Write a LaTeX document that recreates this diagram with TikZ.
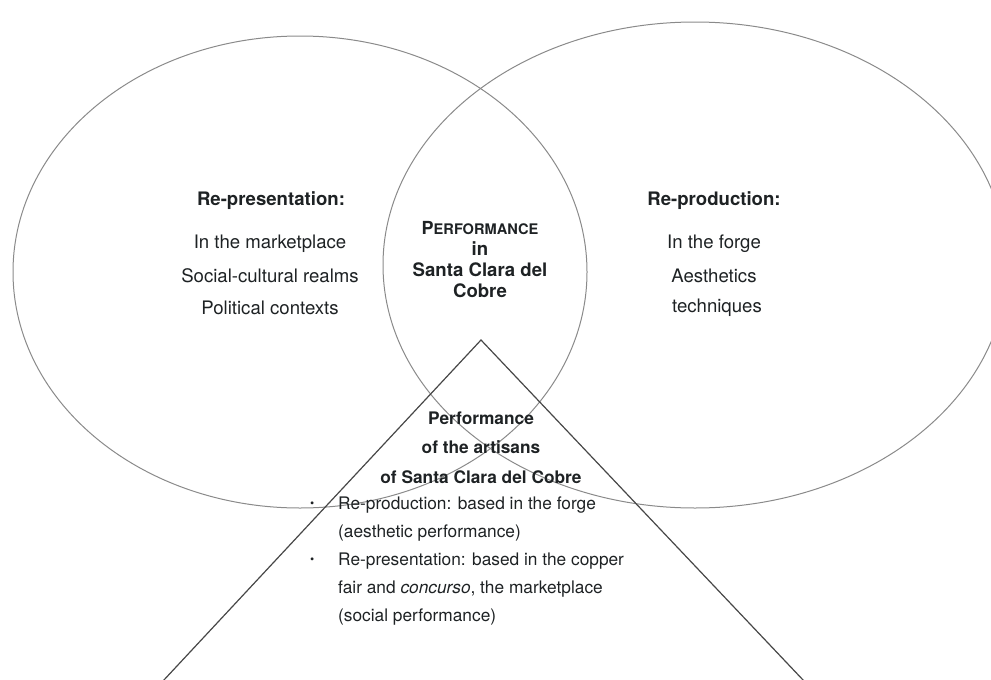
\documentclass[tikz,border=0pt]{standalone}
\usepackage{fontspec}
\setmainfont{TeX Gyre Heros}
\usetikzlibrary{positioning}

\definecolor{ringgray}{HTML}{8A8A8A}
\definecolor{inkdark}{HTML}{1E2224}

\begin{document}
\begin{tikzpicture}[x=1pt,y=-1pt,
	ring/.style={draw=ringgray,line width=1pt},
	wedge/.style={draw=black!72,line width=1.2pt},
	head/.style={font=\fontsize{18.6}{22}\selectfont\bfseries,text=inkdark},
	item/.style={font=\fontsize{18.6}{22}\selectfont,text=inkdark},
	small/.style={font=\fontsize{17.3}{20}\selectfont,text=inkdark,anchor=west,inner sep=0pt},
	smallhead/.style={font=\fontsize{17.3}{20}\selectfont\bfseries,text=inkdark}]
	\useasboundingbox (0,0) rectangle (991,680);
	% circles
	\draw[ring] (300,272) ellipse [x radius=287,y radius=236];
	\draw[ring] (695,265) ellipse [x radius=312,y radius=243];
	% triangle
	\coordinate (top) at (481,340);
	\coordinate (bl) at (163,681);
	\coordinate (br) at (804,681);
	\draw[wedge,line join=miter] (bl) -- (top) -- (br);
	% left circle
	\node[head] (RP) at (271,201) {Re-presentation:};
	\node[item] (RP1) at (270,244) {In the marketplace};
	\node[item] (RP2) at (270,276) {Social-cultural realms};
	\node[item] (RP3) at (270,308) {Political contexts};
	% middle
	\node[head,font=\fontsize{18}{22}\selectfont\bfseries] (P0) at (480,228)
		{P{\fontsize{14.6}{22}\selectfont ERFORMANCE}};
	\node[head] (P1) at (480,249) {in};
	\node[head] (P2) at (480,270) {Santa Clara del};
	\node[head] (P3) at (480,291) {Cobre};
	% right circle
	\node[head] (RD) at (714,201) {Re-production:};
	\node[item] (RD1) at (714,244) {In the forge};
	\node[item] (RD2) at (714,276) {Aesthetics};
	\node[item] (RD3) at (717,308) {techniques};
	% triangle text
	\node[smallhead] (T1) at (481,418) {Performance};
	\node[smallhead] (T2) at (481,447) {of the artisans};
	\node[smallhead] (T3) at (481,477) {of Santa Clara del Cobre};
	\node[small] (b1) at (310,505) {{\fontsize{12}{12}\selectfont\textbullet}};
	\node[small] (L1) at (338,505) {Re-production: based in the forge};
	\node[small] (L2) at (338,533) {(aesthetic performance)};
	\node[small] (b2) at (310,561) {{\fontsize{12}{12}\selectfont\textbullet}};
	\node[small] (L3) at (338,561) {Re-presentation: based in the copper};
	\node[small] (L4) at (338,589) {fair and \textit{concurso}, the marketplace};
	\node[small] (L5) at (338,617) {(social performance)};
\end{tikzpicture}
\end{document}
